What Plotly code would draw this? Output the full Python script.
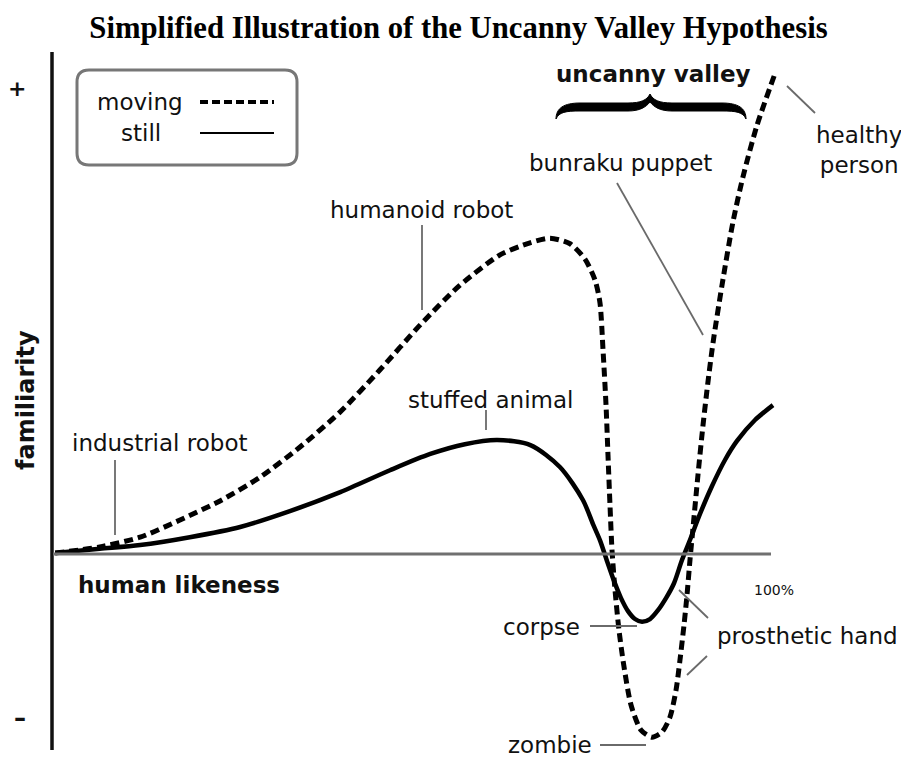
import plotly.graph_objects as go

# ---------------- data (human likeness %, familiarity) ----------------
still_x = [0.3, 6.5, 12.1, 19.0, 26.0, 32.9, 39.9, 46.8, 52.4, 57.2, 61.7, 66.3, 70.4, 73.6,
           75.0, 76.0, 76.94, 77.92, 78.89, 79.86, 80.83, 81.81, 82.92, 84.03, 85.14, 86.25,
           87.36, 88.47, 89.86, 91.53, 93.33, 95.0, 97.5, 100.0]
still_y = [0.0, 0.9, 1.7, 3.4, 5.6, 9.0, 13.1, 17.8, 21.3, 23.4, 24.3, 23.2, 18.5, 11.4,
           6.2, 2.6, -1.7, -6.0, -9.7, -12.5, -14.2, -14.8, -14.2, -12.3, -9.7, -6.5,
           -1.5, 2.8, 8.4, 14.4, 20.0, 24.1, 28.6, 31.8]

moving_x = [0.3, 6.5, 12.1, 17.64, 23.19, 28.75, 34.31, 39.86, 45.42, 50.97, 56.53, 62.08,
            66.25, 69.03, 71.81, 73.89, 75.28, 75.97, 76.39, 76.81, 77.08, 77.36, 77.64,
            78.06, 78.61, 79.31, 80.28, 81.67, 83.19, 84.58, 85.69, 86.53, 87.08, 87.64,
            88.06, 88.47, 88.89, 89.58, 90.28, 90.97, 91.67, 92.92, 94.44, 95.83, 97.78, 100.3]
moving_y = [0.0, 1.3, 3.4, 7.1, 11.2, 16.3, 22.8, 30.3, 39.4, 49.0, 57.6, 64.1,
            66.7, 67.7, 66.5, 63.2, 58.7, 53.8, 43.7, 31.8, 21.1, 10.3, 0.6,
            -8.0, -16.6, -24.5, -32.7, -38.1, -39.6, -38.5, -35.3, -29.5, -23.0, -15.5,
            -9.0, -1.5, 5.4, 16.8, 27.5, 36.8, 45.2, 57.6, 71.2, 80.9, 92.0, 103.2]

labels = ["industrial robot", "humanoid robot", "stuffed animal", "bunraku puppet",
          "healthy<br>person", "corpse", "prosthetic hand", "zombie"]
title_text = "Simplified Illustration of the Uncanny Valley Hypothesis"

# ---------------- layout helpers (screen pixel -> axis units) ----------------
OFF = 8                      # default page margin of the html body
W, H = 909 - OFF, 758 - OFF
X0PX, XSC = 53, 7.2
Y0PX, YSC = 553, 4.65

def px(x):
    return (x - X0PX) / XSC

def py(y):
    return (Y0PX - y) / YSC

FONT = "DejaVu Sans"
GRAY = "#6a6a6a"

fig = go.Figure()
fig.add_trace(go.Scatter(x=still_x, y=still_y, mode="lines",
                         line=dict(color="black", width=4.5, shape="spline", smoothing=0.8),
                         name="still", hoverinfo="skip"))
fig.add_trace(go.Scatter(x=moving_x, y=moving_y, mode="lines",
                         line=dict(color="black", width=5, dash="9px,5px", shape="spline", smoothing=0.7),
                         name="moving", hoverinfo="skip"))

shapes = []

def seg(x1, y1, x2, y2, color=GRAY, width=1.8, dash=None):
    d = dict(type="line", xref="x", yref="y", x0=px(x1), y0=py(y1), x1=px(x2), y1=py(y2),
             line=dict(color=color, width=width), layer="above")
    if dash:
        d["line"]["dash"] = dash
    shapes.append(d)

# axes
seg(52, 52, 52, 750, color="#111111", width=3.5)
seg(53, 554, 771, 554, color="#707070", width=3)

# leader lines
seg(115, 460, 115, 535)          # industrial robot
seg(422, 225, 422, 310)          # humanoid robot
seg(486, 410, 486, 430)          # stuffed animal
seg(617, 183, 703, 335)          # bunraku puppet
seg(787, 86, 815, 113)           # healthy person
seg(590, 626, 637, 626)          # corpse
seg(679, 590, 708, 618)          # prosthetic hand (still)
seg(707, 656, 687, 675)          # prosthetic hand (moving)
seg(600, 745, 646, 745)          # zombie

# legend box (rounded rect)
def P(x, y):
    return f"{px(x):.4f},{py(y):.4f}"

bx0, by0, bx1, by1, r = 77, 70, 297, 165, 12
box = (f"M {P(bx0 + r, by0)} L {P(bx1 - r, by0)} Q {P(bx1, by0)} {P(bx1, by0 + r)} "
       f"L {P(bx1, by1 - r)} Q {P(bx1, by1)} {P(bx1 - r, by1)} L {P(bx0 + r, by1)} "
       f"Q {P(bx0, by1)} {P(bx0, by1 - r)} L {P(bx0, by0 + r)} Q {P(bx0, by0)} {P(bx0 + r, by0)} Z")
shapes.append(dict(type="path", path=box, xref="x", yref="y",
                   line=dict(color="#777777", width=3), fillcolor="rgba(0,0,0,0)", layer="above"))
seg(200, 102, 274, 102, color="black", width=4, dash="8px,4px")
seg(200, 133, 274, 133, color="black", width=2.2)

# brace
brace = (f"M {P(556, 119)} C {P(556, 108)} {P(564, 103)} {P(580, 103)} L {P(628, 103)} "
         f"C {P(641, 103)} {P(647, 100)} {P(650, 94)} C {P(653, 100)} {P(659, 103)} {P(672, 103)} "
         f"L {P(722, 103)} C {P(738, 103)} {P(746, 108)} {P(746, 119)} "
         f"C {P(743, 112)} {P(736, 111)} {P(722, 111)} L {P(672, 111)} "
         f"C {P(660, 111)} {P(654, 107)} {P(650, 102)} C {P(646, 107)} {P(640, 111)} {P(628, 111)} "
         f"L {P(580, 111)} C {P(566, 111)} {P(559, 112)} {P(556, 119)} Z")
shapes.append(dict(type="path", path=brace, xref="x", yref="y",
                   line=dict(color="black", width=1), fillcolor="black", layer="above"))

annotations = []

def txt(text, x, y, size=23, bold=False, angle=0, xanchor="center", color="#111111"):
    if bold:
        text = f"<b>{text}</b>"
    annotations.append(dict(text=text, x=px(x), y=py(y), xref="x", yref="y", showarrow=False,
                            xanchor=xanchor, yanchor="middle", textangle=angle,
                            font=dict(family=FONT, size=size, color=color)))

txt(labels[0], 160, 443)
txt(labels[1], 421, 210)
txt(labels[2], 490, 400)
txt(labels[3], 620, 163)
txt(labels[4], 859, 150)
txt(labels[5], 541, 627)
txt(labels[6], 807, 636)
txt(labels[7], 550, 745)
txt("uncanny valley", 653, 74, bold=True)
txt("human likeness", 179, 585, bold=True)
txt("familiarity", 26, 400, size=24, bold=True, angle=-90)
txt("100%", 774, 590, size=14)
txt("+", 17, 88, size=22, bold=True)
txt("–", 20, 718, size=24, bold=True)
txt("moving", 140, 102)
txt("still", 141, 133)

fig.update_layout(
    width=W, height=H,
    margin=dict(l=0, r=0, t=0, b=0),
    paper_bgcolor="white", plot_bgcolor="white",
    showlegend=False,
    title=dict(text=f"<b>{title_text}</b>", x=0.5, xanchor="center",
               y=1 - (27 - OFF) / H, yanchor="middle",
               font=dict(family="Liberation Serif", size=30.7, color="black")),
    xaxis=dict(range=[px(OFF), px(OFF + W)], visible=False, fixedrange=True),
    yaxis=dict(range=[py(OFF + H), py(OFF)], visible=False, fixedrange=True),
    shapes=shapes, annotations=annotations,
)

fig.write_html("out.html")
